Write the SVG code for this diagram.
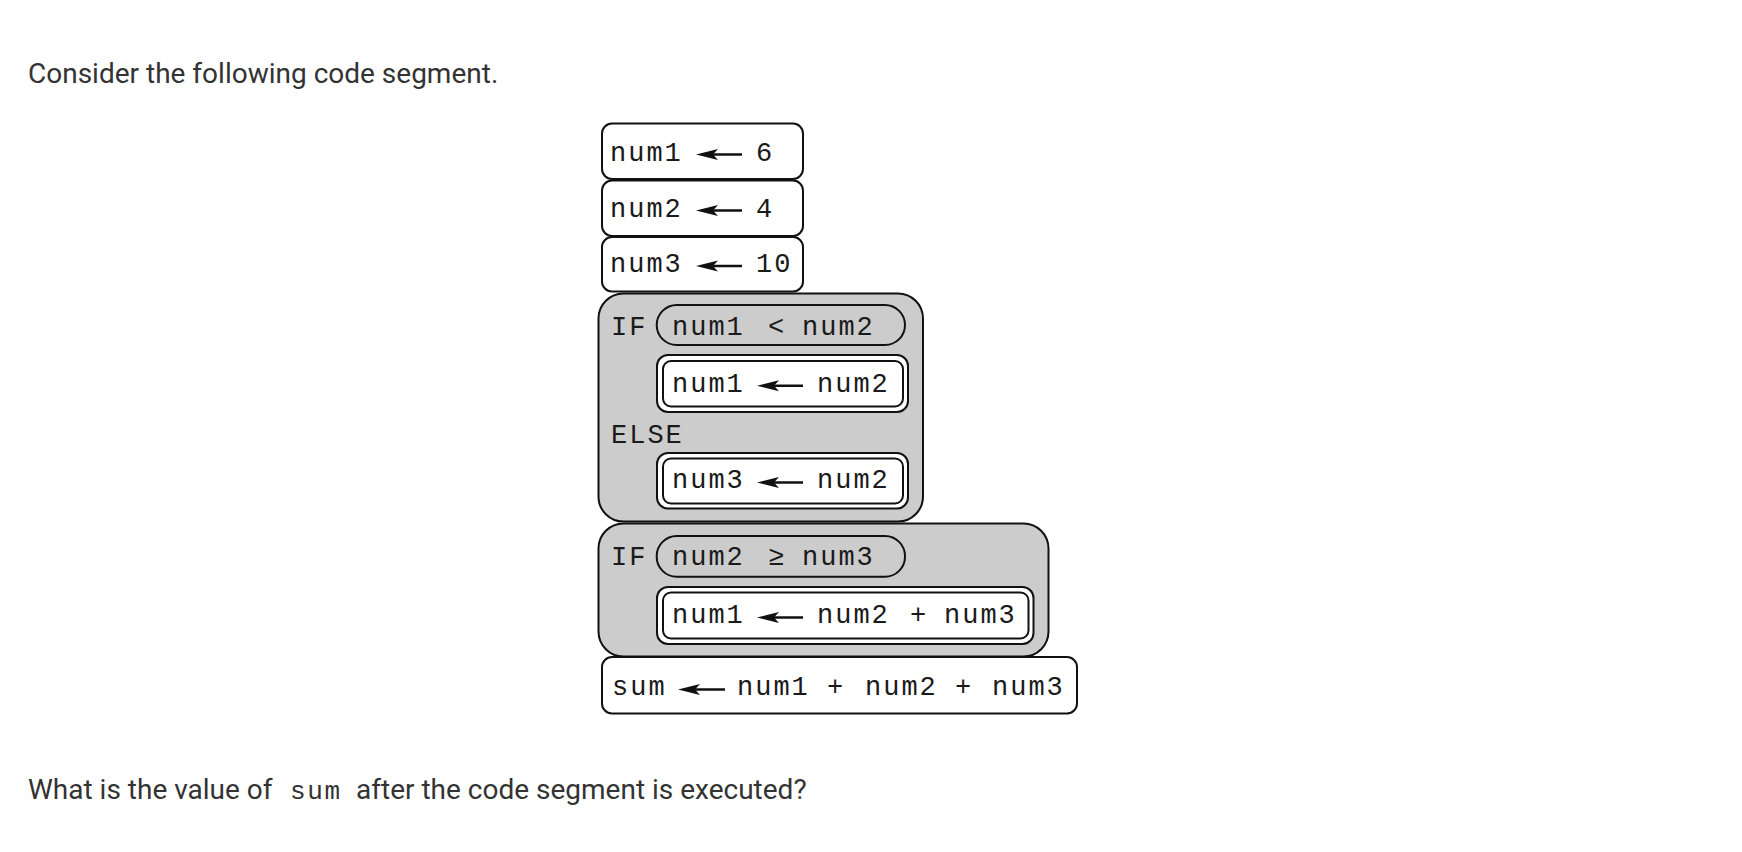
<svg xmlns="http://www.w3.org/2000/svg" xmlns:xlink="http://www.w3.org/1999/xlink" width="1742" height="852" viewBox="0 0 1742 852">
<style>
.q{font-family:Roboto,"Liberation Sans",sans-serif;font-size:28px;fill:#333}
.qc{font-family:"Liberation Mono","DejaVu Sans Mono",monospace;font-size:26px;letter-spacing:1.6px;fill:#333}
.c{font-family:"Liberation Mono","DejaVu Sans Mono",monospace;font-size:27px;letter-spacing:2px;fill:#1a1a1a}
.box{fill:#fff;stroke:#111;stroke-width:2}
.grey{fill:#ccc;stroke:#111;stroke-width:2}
.shaft{stroke:#111;stroke-width:2.6;fill:none}
.head{fill:#111}
</style>
<defs>
<path id="ah" class="head" d="M0 0 L22 -5.5 L17 0 L22 5.5 Z"/>
</defs>
<rect width="1742" height="852" fill="#fff"/>
<text class="q" x="28" y="83">Consider the following code segment.</text>

<g id="n1">
<rect class="box" x="602" y="123.5" width="201" height="55.5" rx="10"/>
<text class="c" x="610" y="160.5">num1</text>
<path class="shaft" d="M708 154.5 H742"/><use href="#ah" x="696" y="154.5"/>
<text class="c" x="756" y="160.5">6</text>
</g>
<g id="n2">
<rect class="box" x="602" y="180.5" width="201" height="55.5" rx="10"/>
<text class="c" x="610" y="216.5">num2</text>
<path class="shaft" d="M708 210.5 H742"/><use href="#ah" x="696" y="210.5"/>
<text class="c" x="756" y="216.5">4</text>
</g>
<g id="n3">
<rect class="box" x="602" y="237" width="201" height="54.5" rx="10"/>
<text class="c" x="610" y="271.8">num3</text>
<path class="shaft" d="M708 266 H742"/><use href="#ah" x="696" y="266"/>
<text class="c" x="756" y="271.8">10</text>
</g>

<g id="if1">
<rect class="grey" x="598.5" y="293.5" width="324.5" height="228" rx="25"/>
<text class="c" x="611" y="335">IF</text>
<rect class="grey" x="656.7" y="305" width="248.3" height="40" rx="20"/>
<text class="c" x="672" y="335">num1</text>
<text class="c" x="768" y="335">&lt;</text>
<text class="c" x="802" y="335">num2</text>
<g id="if1then">
<rect class="box" x="657" y="355" width="251" height="57" rx="11"/>
<rect class="box" x="663" y="361" width="240" height="45.5" rx="8"/>
<text class="c" x="672" y="391.5">num1</text>
<path class="shaft" d="M769 385.7 H803"/><use href="#ah" x="757" y="385.7"/>
<text class="c" x="817" y="391.5">num2</text>
</g>
<text class="c" x="611" y="443.3">ELSE</text>
<g id="if1else">
<rect class="box" x="657" y="453" width="251" height="55.5" rx="11"/>
<rect class="box" x="663" y="458.5" width="240" height="45" rx="8"/>
<text class="c" x="672" y="488.3">num3</text>
<path class="shaft" d="M769 482.5 H803"/><use href="#ah" x="757" y="482.5"/>
<text class="c" x="817" y="488.3">num2</text>
</g>
</g>

<g id="if2">
<rect class="grey" x="598.5" y="523.5" width="450" height="133" rx="25"/>
<text class="c" x="611" y="565">IF</text>
<rect class="grey" x="656.7" y="536" width="248.3" height="40.7" rx="20"/>
<text class="c" x="672" y="565">num2</text>
<text class="c" x="768" y="565">≥</text>
<text class="c" x="802" y="565">num3</text>
<g id="if2then">
<rect class="box" x="657" y="587" width="376.5" height="57" rx="11"/>
<rect class="box" x="663" y="592.5" width="365.5" height="46" rx="8"/>
<text class="c" x="672" y="623.3">num1</text>
<path class="shaft" d="M769 617.5 H803"/><use href="#ah" x="757" y="617.5"/>
<text class="c" x="817" y="623.3">num2</text>
<text class="c" x="910" y="623.3">+</text>
<text class="c" x="944" y="623.3">num3</text>
</g>
</g>

<g id="sum">
<rect class="box" x="602" y="657" width="475" height="56.5" rx="10"/>
<text class="c" x="612" y="695">sum</text>
<path class="shaft" d="M690 689.5 H725"/><use href="#ah" x="678" y="689.5"/>
<text class="c" x="737" y="695">num1</text>
<text class="c" x="827" y="695">+</text>
<text class="c" x="865" y="695">num2</text>
<text class="c" x="955" y="695">+</text>
<text class="c" x="992" y="695">num3</text>
</g>

<text class="q" x="28" y="799">What is the value of</text>
<text class="qc" x="290" y="799">sum</text>
<text class="q" x="356" y="799">after the code segment is executed?</text>
</svg>
